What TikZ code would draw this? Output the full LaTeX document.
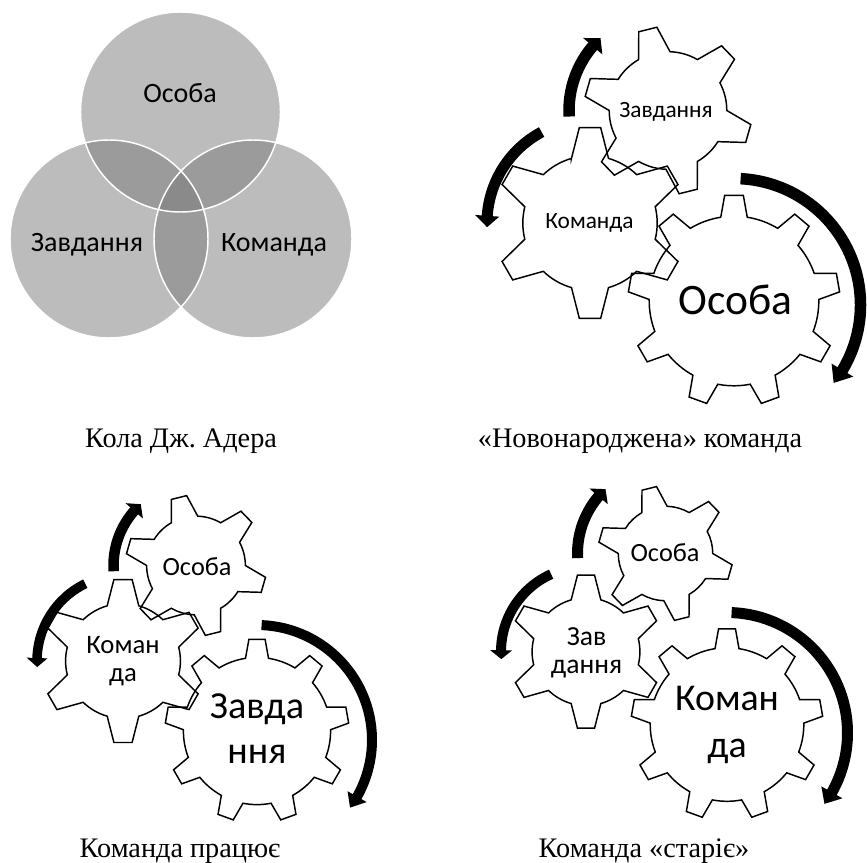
\documentclass[tikz,border=0pt]{standalone}
\usepackage{fontspec}
\setmainfont{Liberation Serif}
\newfontfamily\carl{Carlito}
\newcommand\gfs[2]{\fontsize{#1}{#2}\selectfont}
\definecolor{venngray}{gray}{0.48}
\frenchspacing

% gear outline: cx, cy, R, teeth, rotation (screen angle of first tooth), inner radius, tooth top half width, tooth base half width
\newcommand\gearshape[8]{%
  \pgfmathsetmacro\gStep{360/#4}%
  \pgfmathsetmacro\gRin{#6}%
  \pgfmathsetmacro\gHt{asin((#7)/(#3))}%
  \pgfmathsetmacro\gHb{asin((#8)/(\gRin))}%
  \pgfmathtruncatemacro\gLast{#4-1}%
  \draw[gearline,shift={(#1,#2)}] ({#5-\gHb}:\gRin)
    \foreach \k in {0,...,\gLast}{
      -- ({#5+\k*\gStep-\gHt}:#3) -- ({#5+\k*\gStep+\gHt}:#3) -- ({#5+\k*\gStep+\gHb}:\gRin)
      arc[start angle={#5+\k*\gStep+\gHb}, end angle={#5+(\k+1)*\gStep-\gHb}, radius=\gRin]
    } -- cycle;
}
\newcommand\gearsix[4]{\gearshape{#1}{#2}{#3}{6}{#4}{0.70*#3}{0.111*#3}{0.193*#3}}
\newcommand\gearnine[4]{\gearshape{#1}{#2}{#3}{9}{#4}{0.80*#3}{0.088*#3}{0.125*#3}}

% curved arrow: cx, cy, mid radius, start angle, end angle of body, thickness (px), head angle (signed)
\newcommand\turnarrow[7]{%
  \pgfmathsetmacro\aLw{#6*0.75}%
  \pgfmathsetmacro\aIn{#3-1.1*#6}%
  \pgfmathsetmacro\aOut{#3+1.1*#6}%
  \pgfmathsetmacro\aEnd{#5+0.3*#7}%
  \draw[line width=\aLw pt, line cap=butt, shift={(#1,#2)}] ({#4}:#3) arc[start angle=#4, end angle=\aEnd, radius=#3];
  \fill[shift={(#1,#2)}] ({#5}:\aIn) -- ({#5}:\aOut) -- ({#5+#7}:#3) -- cycle;
}

\begin{document}
\begin{tikzpicture}[x=0.75pt,y=-0.75pt,
  gearline/.style={draw=black, line width=1.1pt, line join=miter},
  venn/.style={fill=venngray, fill opacity=0.5},
  vennline/.style={draw=white, line width=1.1pt},
  venntext/.style={font=\carl\gfs{21}{25}, inner sep=0pt},
  caption/.style={font=\gfs{21.2}{25}, inner sep=0pt, anchor=base}]
\useasboundingbox (0,0) rectangle (867,863);

% ---------- Venn ----------
\fill[venn] (180.5,112) circle[radius=100];
\fill[venn] (109,239) circle[radius=99];
\fill[venn] (253,239) circle[radius=99];
\draw[vennline] (180.5,112) circle[radius=100];
\draw[vennline] (109,239) circle[radius=99];
\draw[vennline] (253,239) circle[radius=99];
\node[venntext] (vO) at (180,93) {Особа};
\node[venntext] (vZ) at (87,245) {Завдання};
\node[venntext] (vK) at (274,245) {Команда};

% ---------- top right ----------
\gearnine{734}{301}{106}{-90}
\gearsix{590}{223}{96}{-90}
\gearsix{668}{110.5}{84}{-104}
\turnarrow{734}{305}{126.5}{-87}{31}{11.5}{7}
\turnarrow{590}{223}{103}{242}{184}{11}{-6.3}
\turnarrow{668}{110.5}{99}{176.5}{220.5}{11.5}{6.5}
\node[font=\carl\gfs{17.5}{21}, inner sep=0pt] (trZ) at (666,112) {Завдання};
\node[font=\carl\gfs{17.5}{21}, inner sep=0pt] (trK) at (589.5,223) {Команда};
\node[font=\carl\gfs{32.6}{38}, inner sep=0pt] (trO) at (735.5,300) {Особа};

% ---------- bottom left ----------
\gearnine{257}{731}{92}{-90}
\gearsix{123}{661}{82}{-90}
\gearsix{196}{565.5}{70.5}{-104}
\turnarrow{257}{740}{115}{-87.7}{29.5}{10}{6.5}
\turnarrow{123}{661}{86}{244}{182}{9.5}{-6}
\turnarrow{196}{565.5}{82.5}{176}{221.5}{10.5}{6.5}
\node[font=\carl\gfs{19.7}{24}, inner sep=0pt] (blO) at (197,567) {Особа};
\node[font=\carl\gfs{20}{21}, inner sep=0pt, align=center] (blK) at (123,661) {Коман\\да};
\node[font=\carl\gfs{28.7}{33.75}, inner sep=0pt, align=center] (blZ) at (257,729) {Завда\\ння};

% ---------- bottom right ----------
\gearnine{727}{724.5}{96}{-90}
\gearsix{586}{651.7}{77}{-90}
\gearsix{665.5}{553.5}{67.5}{-104}
\turnarrow{727}{733}{120.5}{-87.8}{29.5}{11}{6.5}
\turnarrow{586}{651.7}{85}{245.8}{181}{10}{-6}
\turnarrow{665.5}{553.5}{88}{177}{220.5}{11}{6.5}
\node[font=\carl\gfs{19.7}{24}, inner sep=0pt] (brO) at (665,553) {Особа};
\node[font=\carl\gfs{20.7}{20.8}, inner sep=0pt, align=center] (brZ) at (586.5,653) {Зав\\дання};
\node[font=\carl\gfs{28.4}{35}, inner sep=0pt, align=center] (brK) at (727,725) {Коман\\да};

% ---------- captions ----------
\node[caption] (c1) at (181,447) {Кола Дж. Адера};
\node[caption] (c2) at (640,447) {«Новонароджена» команда};
\node[caption] (c3) at (180,857) {Команда працює};
\node[caption] (c4) at (644,857) {Команда «старіє»};
\end{tikzpicture}
\end{document}
